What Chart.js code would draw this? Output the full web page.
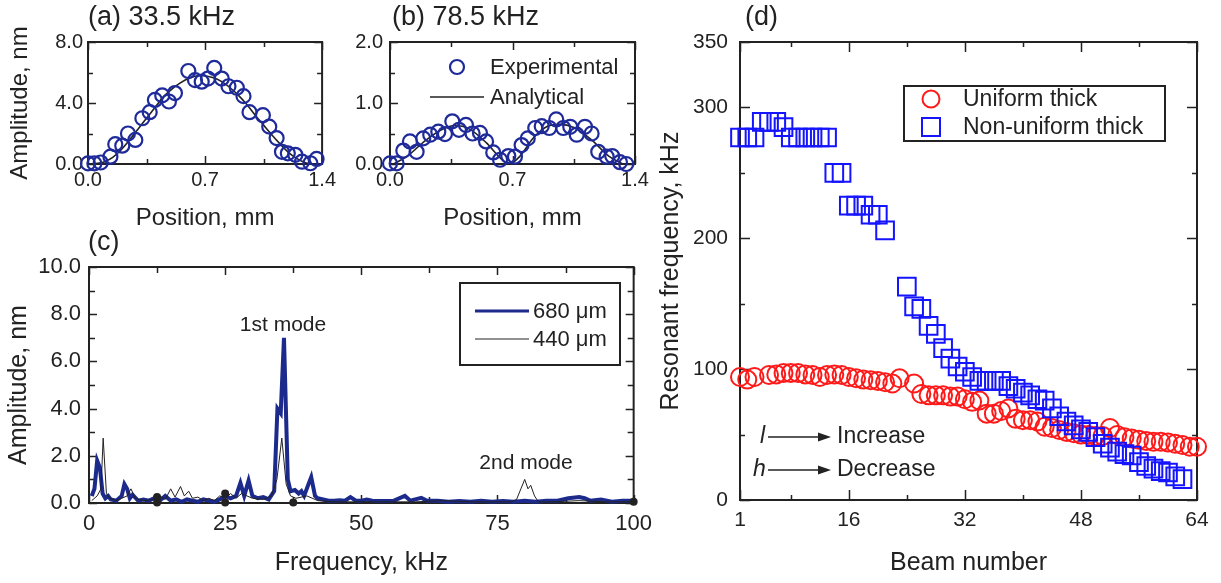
<!DOCTYPE html>
<html>
<head>
<meta charset="utf-8">
<script src="https://cdn.jsdelivr.net/npm/chart.js@4.4.1/dist/chart.umd.min.js"></script>
<style>
    body { margin: 0; background: #fff; width: 1221px; height: 583px; overflow: hidden; position: relative; font-family: "Liberation Sans", Arial, sans-serif; color: #222; }
    canvas { position: absolute; }
    .panel-title { position: absolute; font-size: 27px; line-height: 27px; white-space: nowrap; }
</style>
</head>
<body>
<canvas id="chartA" width="340" height="235" style="left:0;top:0"></canvas>
<canvas id="chartB" width="320" height="235" style="left:340px;top:0"></canvas>
<canvas id="chartC" width="660" height="348" style="left:0;top:235px"></canvas>
<canvas id="chartD" width="571" height="583" style="left:650px;top:0"></canvas>
<div class="panel-title" style="left:88px;top:3px">(a) 33.5 kHz</div>
<div class="panel-title" style="left:392px;top:3px">(b) 78.5 kHz</div>
<div class="panel-title" style="left:88px;top:228px">(c)</div>
<div class="panel-title" style="left:745px;top:3px">(d)</div>
<script>
// (a) 33.5 kHz mode shape
const A_EXP_X = [0, 0.038, 0.076, 0.134, 0.163, 0.205, 0.239, 0.283, 0.325, 0.369, 0.40, 0.444, 0.484, 0.52, 0.60, 0.64, 0.68, 0.717, 0.755, 0.80, 0.84, 0.89, 0.93, 0.966, 1.046, 1.084, 1.128, 1.16, 1.195, 1.24, 1.28, 1.33, 1.367];
const A_EXP_Y = [0.04, 0.04, 0.1, 0.48, 1.3, 1.2, 2.0, 1.58, 3.0, 3.4, 4.2, 4.5, 4.1, 4.65, 6.1, 5.5, 5.4, 5.6, 6.3, 5.6, 5.1, 5.0, 4.45, 3.4, 3.2, 2.45, 1.7, 0.8, 0.7, 0.6, 0.15, 0.05, 0.33];
const A_FIT_X = [0.04, 0.1, 0.15, 0.2, 0.25, 0.3, 0.35, 0.4, 0.45, 0.5, 0.55, 0.6, 0.67, 0.75, 0.8, 0.85, 0.9, 0.95, 1.0, 1.05, 1.1, 1.15, 1.2, 1.25, 1.3, 1.34];
const A_FIT_Y = [0, 0.15, 0.45, 0.95, 1.6, 2.3, 3.0, 3.7, 4.4, 4.9, 5.3, 5.6, 5.8, 5.65, 5.4, 5.0, 4.5, 3.9, 3.2, 2.55, 1.9, 1.3, 0.75, 0.35, 0.08, 0];

// (b) 78.5 kHz mode shape
const B_EXP_X = [0, 0.038, 0.076, 0.114, 0.152, 0.19, 0.23, 0.276, 0.314, 0.356, 0.394, 0.434, 0.472, 0.514, 0.549, 0.59, 0.629, 0.676, 0.714, 0.752, 0.787, 0.83, 0.867, 0.91, 0.95, 0.99, 1.03, 1.067, 1.114, 1.152, 1.19, 1.238, 1.27, 1.314, 1.35];
const B_EXP_Y = [0.01, 0.01, 0.22, 0.37, 0.2, 0.42, 0.48, 0.53, 0.49, 0.7, 0.56, 0.64, 0.5, 0.51, 0.37, 0.19, 0.07, 0.13, 0.12, 0.31, 0.42, 0.59, 0.62, 0.59, 0.73, 0.59, 0.61, 0.48, 0.61, 0.5, 0.2, 0.12, 0.13, 0.03, 0];
const B_FIT_X = [0.02, 0.1, 0.2, 0.3, 0.37, 0.45, 0.55, 0.63, 0.68, 0.74, 0.82, 0.9, 0.97, 1.05, 1.15, 1.25, 1.33];
const B_FIT_Y = [0, 0.13, 0.38, 0.57, 0.63, 0.58, 0.35, 0.1, 0, 0.12, 0.43, 0.62, 0.65, 0.6, 0.4, 0.13, 0];

const POS_TICKS = [0, 0.35, 0.7, 1.05, 1.4];
const POS_LABELS = [0, 0.7, 1.4];
const A_Y_TICKS = [0, 2, 4, 6, 8];
const A_Y_LABELS = [0, 4, 8];
const B_Y_TICKS = [0, 0.5, 1, 1.5, 2];
const B_Y_LABELS = [0, 1, 2];

// (c) spectra
const C_680_KHZ = [0.5, 1, 1.5, 2, 2.5, 3, 3.5, 4, 5, 6, 6.5, 7, 7.5, 8, 9, 10, 11, 12, 13, 14, 15, 16, 17, 18, 19, 20, 21, 22, 23, 24, 25, 26, 27, 27.8, 28.5, 29.3, 30, 31, 32, 33, 34, 34.6, 35.2, 35.8, 36.5, 37, 37.8, 38.5, 39, 39.5, 40.3, 40.8, 41.5, 42, 43, 44, 45, 46, 47, 48, 49, 50, 51, 52, 54, 56, 58, 59, 61, 62, 64, 66, 68, 70, 72, 74, 76, 78, 80, 82, 84, 86, 88, 90, 91, 92, 94, 96, 98, 100];
const C_680_NM = [0.3, 0.6, 1.8, 1.5, 0.4, 0.2, 0.3, 0.15, 0.1, 0.3, 0.8, 0.6, 0.2, 0.35, 0.1, 0.15, 0.1, 0.2, 0.1, 0.3, 0.1, 0.15, 0.05, 0.15, 0.1, 0.05, 0.15, 0.1, 0.05, 0.15, 0.3, 0.2, 0.3, 0.85, 0.3, 0.95, 0.3, 0.2, 0.25, 0.15, 0.5, 4.0, 3.8, 7.0, 1.0, 0.5, 0.55, 0.4, 0.5, 0.3, 0.8, 1.1, 0.3, 0.2, 0.15, 0.1, 0.1, 0.12, 0.1, 0.25, 0.1, 0.1, 0.15, 0.1, 0.08, 0.1, 0.3, 0.1, 0.22, 0.1, 0.1, 0.05, 0.08, 0.05, 0.1, 0.05, 0.08, 0.05, 0.1, 0.05, 0.1, 0.1, 0.2, 0.25, 0.2, 0.1, 0.15, 0.05, 0.1, 0.1];
const C_440_KHZ = [0.5, 1.5, 2.2, 2.6, 3.2, 3.8, 5, 6, 7, 7.7, 8.5, 10, 12, 13, 14, 15, 15.8, 16.8, 17.5, 18.3, 19, 20, 21, 22, 23, 24, 25, 26, 27, 28, 29, 30, 32, 33.5, 34.5, 35.4, 36.2, 37, 38, 40, 42, 45, 50, 55, 60, 65, 70, 75, 77.5, 78.5, 79.3, 80, 80.6, 81.1, 81.8, 82.5, 85, 90, 95, 100];
const C_440_NM = [0.1, 0.3, 0.6, 2.75, 0.4, 0.2, 0.1, 0.2, 0.3, 0.6, 0.2, 0.1, 0.15, 0.3, 0.15, 0.6, 0.25, 0.7, 0.3, 0.5, 0.2, 0.25, 0.1, 0.2, 0.1, 0.3, 0.2, 0.4, 0.2, 0.4, 0.3, 0.2, 0.15, 0.3, 1.0, 2.75, 0.8, 0.3, 0.2, 0.3, 0.1, 0.05, 0.05, 0.05, 0.05, 0.1, 0.05, 0.05, 0.05, 0.15, 0.6, 1.0, 0.6, 0.75, 0.3, 0.05, 0.05, 0.1, 0.05, 0.05];
const C_DOT_KHZ = [12.5, 12.5, 25, 25, 37.5, 100];
const C_DOT_NM = [0.25, 0.02, 0.4, 0.02, 0.02, 0.05];
const C_X_TICKS = [0, 12.5, 25, 37.5, 50, 62.5, 75, 87.5, 100];
const C_X_LABELS = [0, 25, 50, 75, 100];
const C_Y_TICKS = [0, 1, 2, 3, 4, 5, 6, 7, 8, 9, 10];
const C_Y_LABELS = [0, 2, 4, 6, 8, 10];

// (d) resonant frequency per beam
const UNI_BEAM = [1, 2, 3, 5, 6, 7, 8, 9, 10, 11, 12, 13, 14, 15, 16, 17, 18, 19, 20, 21, 22, 23, 25, 26, 27, 28, 29, 30, 31, 32, 33, 34, 35, 36, 37, 38, 39, 40, 41, 42, 43, 44, 45, 46, 47, 48, 49, 50, 51, 52, 53, 54, 55, 56, 57, 58, 59, 60, 61, 62, 63, 64];
const UNI_KHZ = [94, 92, 94, 95.5, 96, 97, 97, 97, 96, 95.5, 94, 95.5, 96, 95.5, 94, 93, 92, 91.5, 91, 90, 89, 93, 89, 81, 80, 80, 80, 79, 79, 77, 75, 76, 66, 66, 68, 70, 62, 61, 61, 60, 56, 55, 53.5, 52, 51, 50, 49.7, 49, 49, 55, 49.7, 48, 47, 46, 45, 44.5, 44.5, 44, 43, 42, 40.7, 40.7];
const NON_BEAM = [1, 2, 3, 4, 5, 6, 7, 8, 9, 10, 11, 12, 13, 14, 15, 16, 17, 18, 19, 20, 21, 24, 25, 26, 27, 28, 29, 30, 31, 32, 33, 34, 35, 36, 37, 38, 39, 40, 41, 42, 43, 44, 45, 46, 47, 48, 49, 50, 51, 52, 53, 54, 55, 56, 57, 58, 59, 60, 61, 62];
const NON_KHZ = [277, 277, 277, 289, 289, 289, 285, 277, 277, 277, 277, 277, 277, 250, 250, 225, 225, 225, 218, 218, 206, 163, 148, 146, 133, 127, 116, 108, 102, 98, 94, 91, 91, 91, 91, 87, 85, 82, 80, 77, 76, 70, 64, 60, 57, 54, 52, 48, 43, 40, 37, 35, 34, 29, 26, 24, 22, 21, 18, 16];
const D_X_TICKS = [1, 8, 16, 24, 32, 40, 48, 56, 64];
const D_X_LABELS = [1, 16, 32, 48, 64];
const D_Y_TICKS = [0, 50, 100, 150, 200, 250, 300, 350];
const D_Y_LABELS = [0, 100, 200, 300, 350];

const FONT = '"Liberation Sans", Arial, sans-serif';
const INK = '#222';
Chart.defaults.font.family = FONT;
Chart.defaults.color = INK;

function pairs(xs, ys) {
    return xs.map((x, i) => ({ x: x, y: ys[i] }));
}

// box around the plot area with inward ticks on all four sides
const framePlugin = {
    id: 'frame',
    beforeDatasetsDraw(chart, args, opts) {
        const { ctx, chartArea: a, scales } = chart;
        const major = opts.major || 8;
        const minor = opts.minor || 5;
        ctx.save();
        ctx.strokeStyle = INK;
        ctx.lineWidth = 1.5;
        ctx.beginPath();
        scales.x.ticks.forEach(t => {
            const px = Math.round(scales.x.getPixelForValue(t.value)) + 0.5;
            const len = t.label !== '' ? major : minor;
            ctx.moveTo(px, a.bottom); ctx.lineTo(px, a.bottom - len);
            ctx.moveTo(px, a.top); ctx.lineTo(px, a.top + len);
        });
        scales.y.ticks.forEach(t => {
            const py = Math.round(scales.y.getPixelForValue(t.value)) + 0.5;
            const len = t.label !== '' ? major : minor;
            ctx.moveTo(a.left, py); ctx.lineTo(a.left + len, py);
            ctx.moveTo(a.right, py); ctx.lineTo(a.right - len, py);
        });
        ctx.stroke();
        ctx.lineWidth = 2;
        ctx.strokeRect(a.left, a.top, a.right - a.left, a.bottom - a.top);
        ctx.restore();
    }
};

// legends and notes drawn in canvas pixels
const overlayPlugin = {
    id: 'overlay',
    afterDraw(chart, args, opts) {
        const ctx = chart.ctx;
        ctx.save();
        (opts.items || []).forEach(it => {
            ctx.strokeStyle = it.c || INK;
            ctx.fillStyle = it.c || INK;
            ctx.lineWidth = it.w || 1;
            if (it.t === 'text') {
                ctx.font = (it.italic ? 'italic ' : '') + it.size + 'px ' + FONT;
                ctx.textAlign = it.align || 'left';
                ctx.textBaseline = 'middle';
                ctx.fillText(it.s, it.x, it.y);
            } else if (it.t === 'line') {
                ctx.beginPath(); ctx.moveTo(it.x1, it.y); ctx.lineTo(it.x2, it.y); ctx.stroke();
            } else if (it.t === 'arrow') {
                ctx.beginPath(); ctx.moveTo(it.x1, it.y); ctx.lineTo(it.x2 - 6, it.y); ctx.stroke();
                ctx.beginPath(); ctx.moveTo(it.x2, it.y); ctx.lineTo(it.x2 - 13, it.y - 4.5); ctx.lineTo(it.x2 - 13, it.y + 4.5); ctx.closePath(); ctx.fill();
            } else if (it.t === 'circle') {
                ctx.beginPath(); ctx.arc(it.x, it.y, it.r, 0, Math.PI * 2); ctx.stroke();
            } else if (it.t === 'square') {
                ctx.strokeRect(it.x - it.r, it.y - it.r, it.r * 2, it.r * 2);
            } else if (it.t === 'box') {
                ctx.strokeRect(it.x, it.y, it.wd, it.ht);
            }
        });
        ctx.restore();
    }
};

function axis(ticks, labels, fmt, opt) {
    return {
        type: 'linear',
        min: ticks[0],
        max: ticks[ticks.length - 1],
        afterBuildTicks: s => { s.ticks = ticks.map(v => ({ value: v })); },
        afterFit: s => {
            if (opt.width !== undefined) s.width = opt.width;
            if (opt.height !== undefined) s.height = opt.height;
        },
        grid: { display: false, drawTicks: false },
        border: { display: false },
        ticks: {
            autoSkip: false,
            maxRotation: 0,
            padding: opt.pad,
            font: { size: opt.tickSize },
            callback: v => labels.some(l => Math.abs(l - v) < 1e-9) ? fmt(v) : ''
        },
        title: {
            display: !!opt.title,
            text: opt.title || '',
            font: { size: opt.titleSize || 24 },
            padding: { top: opt.titlePad || 0, bottom: opt.titlePad || 0 }
        }
    };
}

function baseOptions(padding, scales, frame, items) {
    return {
        responsive: false,
        animation: false,
        events: [],
        layout: { padding: padding },
        scales: scales,
        plugins: {
            legend: { display: false },
            tooltip: { enabled: false },
            frame: frame,
            overlay: { items: items }
        }
    };
}

const fix1 = v => v.toFixed(1);
const fix0 = v => String(v);
const CIRCLE_BLUE = '#1f2a9a';

new Chart(document.getElementById('chartA'), {
    type: 'scatter',
    data: {
        datasets: [{
            data: pairs(A_EXP_X, A_EXP_Y),
            pointStyle: 'circle', pointRadius: 7, borderWidth: 2.2,
            borderColor: CIRCLE_BLUE, backgroundColor: 'rgba(0,0,0,0)', clip: false
        }, {
            data: pairs(A_FIT_X, A_FIT_Y),
            showLine: true, pointRadius: 0, borderWidth: 1.6, borderColor: INK, tension: 0.3
        }]
    },
    options: baseOptions({ left: 0, right: 8, top: 42, bottom: 0 }, {
        x: axis(POS_TICKS, POS_LABELS, fix1, { height: 71, pad: 4, tickSize: 20, title: 'Position, mm', titlePad: 2 }),
        y: axis(A_Y_TICKS, A_Y_LABELS, fix1, { width: 88, pad: 5, tickSize: 20, title: 'Amplitude, nm', titlePad: 6 })
    }, { major: 8, minor: 5 }, []),
    plugins: [framePlugin, overlayPlugin]
});

new Chart(document.getElementById('chartB'), {
    type: 'scatter',
    data: {
        datasets: [{
            data: pairs(B_EXP_X, B_EXP_Y),
            pointStyle: 'circle', pointRadius: 7, borderWidth: 2.2,
            borderColor: CIRCLE_BLUE, backgroundColor: 'rgba(0,0,0,0)', clip: false
        }, {
            data: pairs(B_FIT_X, B_FIT_Y),
            showLine: true, pointRadius: 0, borderWidth: 1.6, borderColor: INK, cubicInterpolationMode: 'monotone'
        }]
    },
    options: baseOptions({ left: 0, right: 25, top: 42, bottom: 0 }, {
        x: axis(POS_TICKS, POS_LABELS, fix1, { height: 71, pad: 4, tickSize: 20, title: 'Position, mm', titlePad: 2 }),
        y: axis(B_Y_TICKS, B_Y_LABELS, fix1, { width: 50, pad: 7, tickSize: 20 })
    }, { major: 8, minor: 5 }, [
        { t: 'circle', x: 117, y: 67, r: 7, w: 2.2, c: CIRCLE_BLUE },
        { t: 'text', s: 'Experimental', x: 150, y: 68, size: 22 },
        { t: 'line', x1: 90, x2: 144, y: 97, w: 1.6 },
        { t: 'text', s: 'Analytical', x: 150, y: 98, size: 22 }
    ]),
    plugins: [framePlugin, overlayPlugin]
});

new Chart(document.getElementById('chartC'), {
    type: 'scatter',
    data: {
        datasets: [{
            data: pairs(C_440_KHZ, C_440_NM),
            showLine: true, pointRadius: 0, borderWidth: 1, borderColor: INK, order: 0
        }, {
            data: pairs(C_DOT_KHZ, C_DOT_NM),
            pointRadius: 4, borderWidth: 0, backgroundColor: INK, clip: false, order: 1
        }, {
            data: pairs(C_680_KHZ, C_680_NM),
            showLine: true, pointRadius: 0, borderWidth: 4, borderColor: '#1c2a8c', order: 2, clip: false
        }]
    },
    options: baseOptions({ left: 0, right: 24, top: 32, bottom: 0 }, {
        x: axis(C_X_TICKS, C_X_LABELS, fix0, { height: 80, pad: 8, tickSize: 22, title: 'Frequency, kHz', titleSize: 25, titlePad: 5 }),
        y: axis(C_Y_TICKS, C_Y_LABELS, fix1, { width: 89, pad: 8, tickSize: 22, title: 'Amplitude, nm', titleSize: 25, titlePad: 4 })
    }, { major: 8, minor: 6 }, [
        { t: 'box', x: 460, y: 48, wd: 160, ht: 82, w: 2 },
        { t: 'line', x1: 475, x2: 529, y: 76, w: 3, c: '#1c2a8c' },
        { t: 'text', s: '680 μm', x: 533, y: 77, size: 22 },
        { t: 'line', x1: 475, x2: 529, y: 104, w: 1 },
        { t: 'text', s: '440 μm', x: 533, y: 105, size: 22 },
        { t: 'text', s: '1st mode', x: 283, y: 90, size: 21, align: 'center' },
        { t: 'text', s: '2nd mode', x: 526, y: 228, size: 21, align: 'center' }
    ]),
    plugins: [framePlugin, overlayPlugin]
});

new Chart(document.getElementById('chartD'), {
    type: 'scatter',
    data: {
        datasets: [{
            data: pairs(NON_BEAM, NON_KHZ),
            pointStyle: 'rect', pointRadius: 12.5, borderWidth: 2,
            borderColor: '#1414ff', backgroundColor: 'rgba(0,0,0,0)', clip: false
        }, {
            data: pairs(UNI_BEAM, UNI_KHZ),
            pointStyle: 'circle', pointRadius: 9, borderWidth: 2,
            borderColor: '#ff1a1a', backgroundColor: 'rgba(0,0,0,0)', clip: false
        }]
    },
    options: baseOptions({ left: 0, right: 24, top: 42, bottom: 0 }, {
        x: axis(D_X_TICKS, D_X_LABELS, fix0, { height: 83, pad: 8, tickSize: 21, title: 'Beam number', titleSize: 25, titlePad: 5 }),
        y: axis(D_Y_TICKS, D_Y_LABELS, fix0, { width: 90, pad: 12, tickSize: 21, title: 'Resonant frequency, kHz', titleSize: 25, titlePad: 6 })
    }, { major: 10, minor: 5 }, [
        { t: 'box', x: 254, y: 86, wd: 261, ht: 55, w: 2 },
        { t: 'circle', x: 281, y: 99, r: 8.5, w: 2, c: '#ff1a1a' },
        { t: 'text', s: 'Uniform thick', x: 313, y: 100, size: 23 },
        { t: 'square', x: 281, y: 127, r: 9, w: 2, c: '#1414ff' },
        { t: 'text', s: 'Non-uniform thick', x: 313, y: 128, size: 23 },
        { t: 'text', s: 'l', x: 110, y: 437, size: 23, italic: true },
        { t: 'arrow', x1: 118, x2: 181, y: 437, w: 1.6 },
        { t: 'text', s: 'Increase', x: 187, y: 437, size: 23 },
        { t: 'text', s: 'h', x: 103, y: 470, size: 23, italic: true },
        { t: 'arrow', x1: 118, x2: 181, y: 470, w: 1.6 },
        { t: 'text', s: 'Decrease', x: 187, y: 470, size: 23 }
    ]),
    plugins: [framePlugin, overlayPlugin]
});
</script>
</body>
</html>
